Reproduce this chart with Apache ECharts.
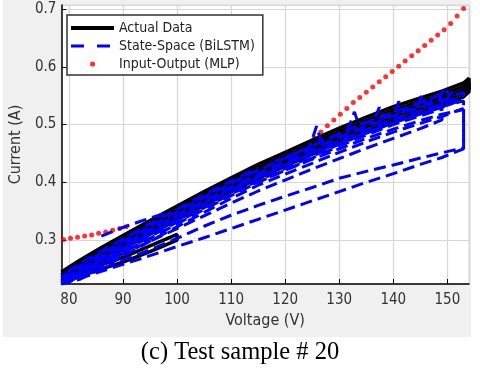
<!DOCTYPE html>
<html>
<head>
<meta charset="utf-8">
<script src="https://cdn.jsdelivr.net/npm/echarts@6/dist/echarts.min.js"></script>
<style>
  html, body { margin: 0; padding: 0; background: #fff; }
  #chart { width: 480px; height: 372px; }
</style>
</head>
<body>
<div id="chart"></div>
<script>
// voltage grid shared by the loop traces (V)
const volts = [78.6, 82, 86, 90, 95, 100, 105, 110, 115, 120, 125, 130, 135, 140, 145, 149, 153, 154];

// actual data, current (A): up sweep + return sweep of each loop
const actualTop    = [0.245, 0.265, 0.287, 0.308, 0.334, 0.359, 0.384, 0.408, 0.431, 0.452, 0.473, 0.494, 0.513, 0.531, 0.546, 0.558, 0.572, 0.580];
const actualTopRet = [0.225, 0.241, 0.263, 0.284, 0.310, 0.335, 0.360, 0.384, 0.407, 0.428, 0.449, 0.470, 0.489, 0.507, 0.522, 0.534, 0.548, 0.557];
const actualMid    = [0.240, 0.259, 0.281, 0.302, 0.328, 0.353, 0.378, 0.402, 0.425, 0.446, 0.467, 0.488, 0.507, 0.525, 0.540, 0.552, 0.566, 0.574];
const actualMidRet = [0.229, 0.247, 0.269, 0.290, 0.316, 0.341, 0.366, 0.390, 0.413, 0.434, 0.455, 0.476, 0.495, 0.513, 0.528, 0.540, 0.554, 0.562];
const actualCore   = [0.235, 0.253, 0.275, 0.296, 0.322, 0.347, 0.372, 0.396, 0.419, 0.440, 0.461, 0.482, 0.501, 0.519, 0.534, 0.546, 0.560, 0.568];
const actualLow    = [0.233, 0.243, 0.257, 0.270, 0.290, 0.310, null, null, null, null, null, null, null, null, null, null, null, null];
const actualLowRet = [0.231, 0.239, 0.250, 0.262, 0.280, 0.300, null, null, null, null, null, null, null, null, null, null, null, null];

// state-space (BiLSTM) prediction, current (A)
const stateP  = [0.224, 0.234, 0.246, 0.258, 0.273, 0.289, 0.304, 0.320, 0.336, 0.352, 0.368, 0.384, 0.400, 0.415, 0.431, 0.443, 0.458, null];
const stateU1 = [0.232, 0.250, 0.272, 0.292, 0.318, 0.342, 0.366, 0.389, 0.410, 0.430, 0.450, 0.468, 0.486, 0.503, 0.519, 0.531, 0.541, null];
const stateQ  = [0.226, 0.236, 0.250, 0.265, 0.283, 0.303, 0.324, 0.343, 0.360, 0.376, 0.391, 0.407, 0.419, 0.430, 0.442, 0.451, 0.460, null];
const stateU2 = [0.229, 0.245, 0.266, 0.285, 0.311, 0.334, 0.357, 0.380, 0.401, 0.421, 0.440, 0.458, 0.476, 0.492, 0.507, 0.518, 0.526, null];
const stateM1 = [0.236, 0.255, 0.277, 0.298, 0.324, 0.349, 0.374, 0.398, 0.421, 0.442, 0.463, 0.484, 0.503, 0.521, 0.538, 0.553, null, null];
const stateM2 = [0.228, 0.241, 0.259, 0.276, 0.298, 0.320, 0.342, 0.364, 0.385, 0.404, 0.423, 0.441, 0.459, 0.476, 0.493, 0.508, null, null];
const stateB  = [0.229, 0.249, 0.271, 0.292, 0.318, 0.343, 0.368, 0.392, 0.415, 0.436, 0.457, 0.478, 0.497, 0.515, 0.530, 0.542, 0.556, null];
const stateD  = [0.224, 0.238, 0.259, 0.280, 0.306, 0.331, 0.356, 0.380, 0.403, 0.424, 0.445, 0.466, 0.485, 0.503, 0.518, 0.530, 0.544, null];
const stateC  = [0.226, 0.243, 0.265, 0.286, 0.312, 0.337, 0.362, 0.386, 0.409, 0.430, 0.451, 0.472, 0.491, 0.509, 0.524, 0.536, 0.550, null];
const stateE  = [0.224, 0.232, 0.251, 0.272, 0.298, 0.323, 0.348, 0.372, 0.395, 0.414, 0.433, 0.452, 0.470, 0.487, 0.502, 0.514, 0.528, null];
const stateG  = [0.239, 0.259, 0.281, 0.302, 0.328, 0.353, 0.378, 0.402, 0.425, null, null, null, null, null, null, null, null, null];
const stateH  = [0.224, 0.236, 0.257, 0.278, 0.303, 0.328, 0.353, 0.377, 0.400, 0.421, 0.442, 0.463, 0.482, 0.500, 0.515, 0.527, null, null];
// jagged stretch along the top of the band
const spikeVolts = [118, 124.5, 125.8, 126.6, 131.5, 132.8, 133.6, 136.5, 137.4, 138.2, 140.2, 141, 141.8, 144.5, 145.3, 146, 148.6, 149.4, 150.4, 151.6];
const spikeAmps  = [0.436, 0.460, 0.497, 0.472, 0.488, 0.522, 0.500, 0.508, 0.530, 0.512, 0.518, 0.540, 0.524, 0.530, 0.552, 0.536, 0.545, 0.565, 0.550, 0.566];
const kneeVolts = [86, 90, 94, 98];
const kneeAmps  = [0.307, 0.322, 0.335, 0.347];

// input-output (MLP) prediction
const mlpVolts = [79.0, 80.3, 81.6, 82.9, 84.2, 85.5, 86.8, 88.1, 89.4, 90.6,
  99.0, 100.2, 101.4, 102.6, 103.8, 105.0, 106.2, 107.4, 108.6, 109.8, 111.0, 112.2, 113.4, 114.6, 115.8,
  117.0, 118.2, 119.4, 120.6, 121.8, 123.0, 124.2, 125.4, 126.6, 127.8, 129.0, 130.2, 131.4, 132.6, 133.8,
  135.0, 136.2, 137.4, 138.6, 139.8, 141.0, 142.2, 143.4, 144.6, 145.8, 147.0, 148.2, 149.4, 150.6, 151.8, 153.0, 154.0];
const mlpAmps = [0.301, 0.303, 0.305, 0.307, 0.309, 0.312, 0.314, 0.317, 0.320, 0.323,
  0.352, 0.357, 0.361, 0.366, 0.370, 0.374, 0.379, 0.383, 0.388, 0.393, 0.398, 0.402, 0.406, 0.411, 0.416,
  0.422, 0.428, 0.434, 0.440, 0.448, 0.456, 0.466, 0.476, 0.487, 0.498, 0.508, 0.518, 0.528, 0.538, 0.547,
  0.556, 0.565, 0.574, 0.583, 0.592, 0.601, 0.610, 0.619, 0.628, 0.637, 0.646, 0.655, 0.664, 0.675, 0.688, 0.701, 0.712];

const xTicks = [80, 90, 100, 110, 120, 130, 140, 150];

const narrow = '"Liberation Sans Narrow", "Arial Narrow", "DejaVu Sans Condensed", "Liberation Sans", Arial, sans-serif';

function pairs(xs, ys) {
  const out = [];
  xs.forEach((x, i) => { if (ys[i] != null) out.push([x, ys[i]]); });
  return out;
}

// up sweep followed by the return sweep, so each loop is one polyline
function loop(up, down) {
  return pairs(volts, up).concat(pairs(volts, down).reverse());
}

function actualSeries(data) {
  return {
    name: 'Actual Data', type: 'line', data: data,
    symbol: 'none', showSymbol: false, color: '#000',
    lineStyle: {color: '#000', width: 3.5}
  };
}

// dash offset differs per trace so the dashes of parallel traces don't line up
function stateSeries(data, offset) {
  return {
    name: 'State-Space (BiLSTM)', type: 'line', data: data,
    symbol: 'none', showSymbol: false, color: '#0000ff',
    lineStyle: {color: '#0000ff', width: 3, type: [12, 6], dashOffset: offset || 0}
  };
}

const chart = echarts.init(document.getElementById('chart'));

chart.setOption({
  animation: false,
  backgroundColor: '#fff',
  title: {
    text: '(c) Test sample # 20',
    left: 'center',
    top: 340,
    padding: 0,
    textStyle: {fontFamily: '"Liberation Serif", "Times New Roman", serif', fontWeight: 'normal', fontSize: 24.5, color: '#000'}
  },
  graphic: [{
    type: 'rect', z: -100, silent: true,
    shape: {x: 3, y: 0, width: 468, height: 337},
    style: {fill: '#f0f0f0'}
  }],
  grid: {
    left: 55, right: 11, top: 5, bottom: 88,
    show: true, backgroundColor: '#fff', borderColor: '#d9d9d9', borderWidth: 1
  },
  legend: {
    left: 67, top: 15, orient: 'vertical',
    padding: [6, 8, 4, 4], itemGap: 4, itemWidth: 43, itemHeight: 14,
    backgroundColor: '#fff', borderColor: '#333', borderWidth: 1.5,
    itemStyle: {borderWidth: 0},
    textStyle: {fontFamily: narrow, fontSize: 14, color: '#222'},
    data: [
      {name: 'Actual Data', icon: 'path://M0,0M43,14M0,5h43v4h-43z'},
      {name: 'State-Space (BiLSTM)', icon: 'path://M0,0M43,14M0,5.5h13v3h-13zM26,5.5h13v3h-13z'},
      {name: 'Input-Output (MLP)', icon: 'path://M0,0M43,14M19,7a2.6,2.6 0 1 1 5.2,0a2.6,2.6 0 1 1 -5.2,0z'}
    ]
  },
  xAxis: {
    type: 'value', min: 78.6, max: 154, splitNumber: 8,
    name: 'Voltage (V)', nameLocation: 'middle', nameGap: 28,
    nameTextStyle: {fontFamily: narrow, fontSize: 16, color: '#333'},
    axisLine: {lineStyle: {color: '#000', width: 1.5}},
    axisTick: {inside: true, length: 5, lineStyle: {color: '#000'}},
    axisLabel: {
      margin: 9, fontFamily: narrow, fontSize: 15, color: '#333',
      showMinLabel: false, showMaxLabel: false,
      formatter: v => (xTicks.indexOf(Math.round(v)) >= 0 && Math.abs(v - Math.round(v)) < 1e-6) ? String(Math.round(v)) : ''
    },
    splitLine: {lineStyle: {color: '#d6d6d6', width: 1.2}}
  },
  yAxis: {
    type: 'value', min: 0.224, max: 0.707, splitNumber: 5,
    name: 'Current (A)', nameLocation: 'middle', nameGap: 31,
    nameTextStyle: {fontFamily: narrow, fontSize: 16, color: '#333'},
    axisLine: {show: true, lineStyle: {color: '#000', width: 1.5}},
    axisTick: {show: true, inside: true, length: 5, lineStyle: {color: '#000'}},
    axisLabel: {margin: 5, fontFamily: narrow, fontSize: 15, color: '#333', showMinLabel: false, showMaxLabel: false},
    splitLine: {lineStyle: {color: '#d6d6d6', width: 1.2}}
  },
  series: [
    actualSeries(loop(actualTop, actualTopRet)),
    actualSeries(loop(actualMid, actualMidRet)),
    actualSeries(pairs(volts, actualCore)),
    actualSeries(loop(actualLow, actualLowRet)),
    stateSeries(loop(stateP, stateU1), 0),
    stateSeries(loop(stateQ, stateU2), 9),
    stateSeries(loop(stateM1, stateM2), 4),
    stateSeries(loop(stateB, stateD), 13),
    stateSeries(pairs(volts, stateC), 7),
    stateSeries(pairs(volts, stateE), 2),
    stateSeries(pairs(volts, stateG), 11),
    stateSeries(pairs(volts, stateH), 15),
    stateSeries(pairs(spikeVolts, spikeAmps), 5),
    stateSeries(pairs(kneeVolts, kneeAmps), 0),
    {
      name: 'Input-Output (MLP)', type: 'scatter', data: pairs(mlpVolts, mlpAmps),
      symbol: 'circle', symbolSize: 5, color: '#ff0000',
      itemStyle: {color: '#ff0000'}
    }
  ]
});
</script>
</body>
</html>
